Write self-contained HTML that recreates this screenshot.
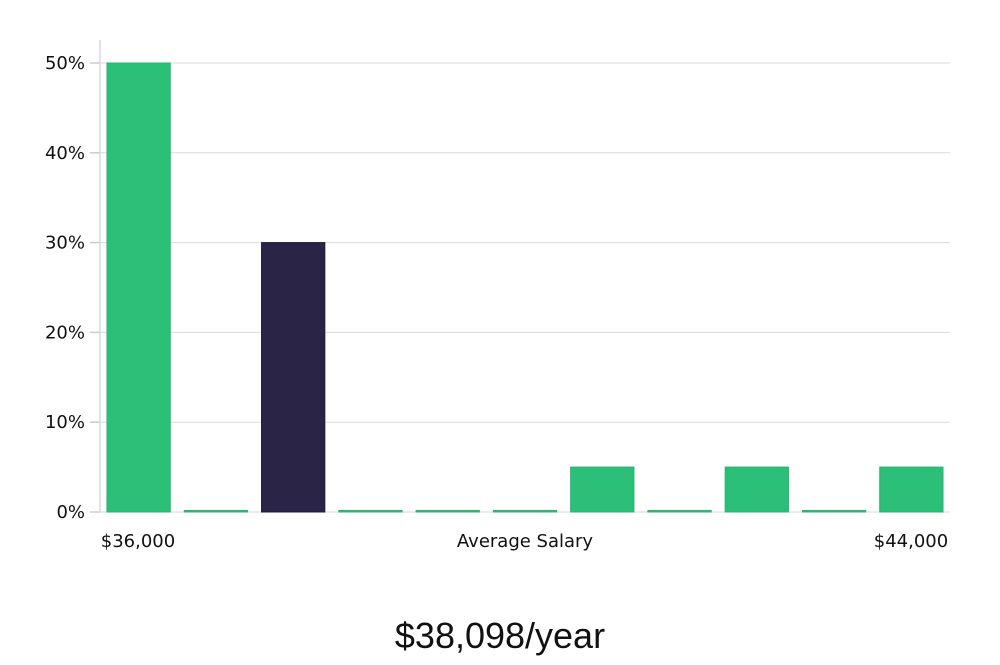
<!DOCTYPE html>
<html><head><meta charset="utf-8"><style>
body{margin:0;background:#fff;width:1000px;height:660px;overflow:hidden}
svg text{font-family:"DejaVu Sans","Liberation Sans",sans-serif}
</style></head><body>
<svg id="c" width="1000" height="660">
<g id="grid"></g><g id="bars"></g><g id="axes"></g>
<text x="138" y="547" font-size="18" text-anchor="middle" fill="#111">$36,000</text>
<text x="525" y="547" font-size="18" text-anchor="middle" fill="#111">Average Salary</text>
<text x="911" y="547" font-size="18" text-anchor="middle" fill="#111">$44,000</text>
<text x="500" y="648" font-size="36" text-anchor="middle" fill="#111" style="font-family:'Liberation Sans Narrow','Liberation Sans',sans-serif">$38,098/year</text>
</svg>
<script>
const values=[50,0,30,0,0,0,5,0,5,0,5];
const highlight=[false,false,true,false,false,false,false,false,false,false,false];
const ticks=[0,10,20,30,40,50];
const tickLabels=["0%","10%","20%","30%","40%","50%"];
const ns="http://www.w3.org/2000/svg";
const x0=100,x1=950,yBase=512,pxPer=8.98;
const y=v=>yBase-v*pxPer;
const slot=(x1-x0)/values.length;
function mk(t,a,p){const e=document.createElementNS(ns,t);for(const k in a)e.setAttribute(k,a[k]);p.appendChild(e);return e;}
const grid=document.getElementById('grid'),bars=document.getElementById('bars'),axes=document.getElementById('axes');
ticks.forEach((t,i)=>{
  const l=mk('line',{x1:x0,x2:x1,y1:y(t),y2:y(t),stroke:'#d9d9d9','stroke-width':1},grid);
  
  
  const tk=mk('line',{x1:90,x2:x0,y1:y(t),y2:y(t),stroke:'#ccc','stroke-width':1.5},axes);
  
  
  const tx=mk('text',{x:85,y:y(t)+6,'font-size':18,'text-anchor':'end',fill:'#111'},axes);
  tx.textContent=tickLabels[i];
  
  
});
const ax=mk('line',{x1:x0,x2:x0,y1:40,y2:yBase,stroke:'#d9d9d9','stroke-width':1.5},axes);


values.forEach((v,i)=>{
  const bx=x0+i*slot+7,w=slot-14;
  const h=Math.max(v*pxPer,1.5);
  const hl=highlight[i];
  const r=mk('rect',{x:bx,y:yBase-h,width:w,height:h,fill:hl?'#2a2547':'#2bbf78',stroke:hl?'#1c1840':'#25b56f','stroke-width':1},bars);
  
  
});
</script>
</body></html>
